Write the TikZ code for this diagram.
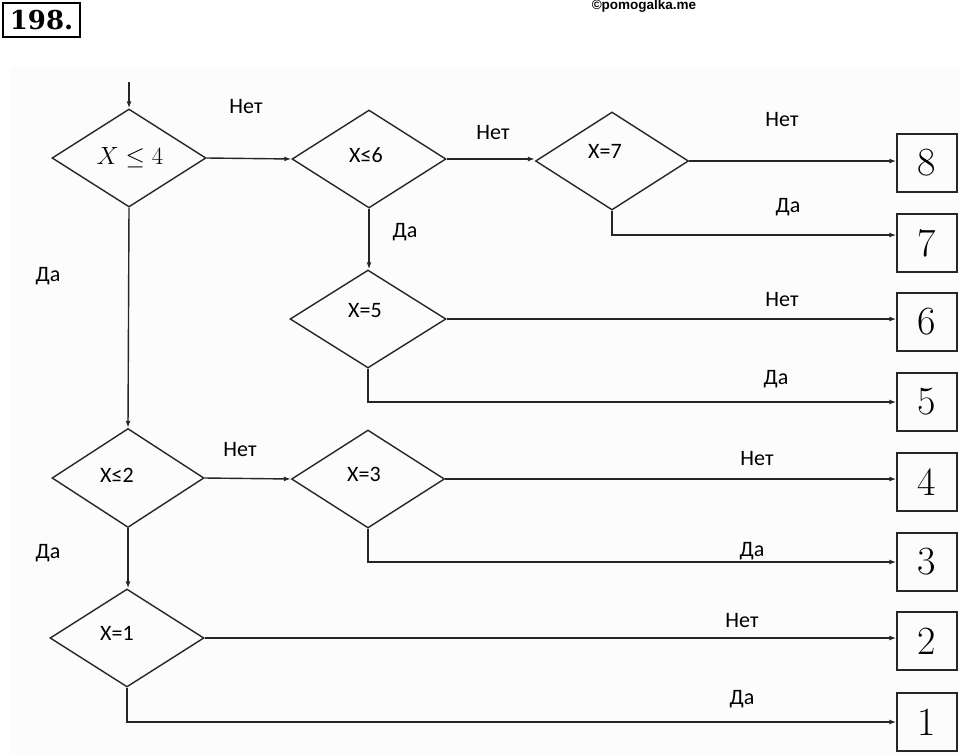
\documentclass[tikz,border=0pt]{standalone}
\usepackage{fontspec}
\newfontfamily\lblfont{Carlito}
\newfontfamily\wmfont{Liberation Sans}
\newfontfamily\titlefont{DejaVu Serif}
\usetikzlibrary{shapes.geometric,arrows.meta}
\tikzset{
  line/.style={draw=black!85, line width=1.4pt},
  arr/.style={line, -{Latex[length=7pt,width=5pt]}},
  dia/.style={diamond, line, inner sep=0pt, minimum width=154pt, minimum height=98pt},
  outbox/.style={rectangle, line, inner sep=0pt, minimum width=60pt, minimum height=58pt,
    font=\fontsize{40}{40}\selectfont},
  lbl/.style={inner sep=0pt, font=\lblfont\fontsize{22}{22}\selectfont},
}
\begin{document}
\begin{tikzpicture}[x=1pt,y=-1pt]
\useasboundingbox (0,0) rectangle (960,755);
\fill[black!1] (10,67) rectangle (960,755);
% title and watermark
\node[draw, line width=2.4pt, minimum width=77pt, minimum height=34pt, inner sep=0pt,
  font=\titlefont\bfseries\fontsize{26}{26}\selectfont] (title) at (41.5,20) {198.};
\node[inner sep=0pt, font=\wmfont\bfseries\fontsize{13.5}{13.5}\selectfont] (wm) at (644,6) {©pomogalka.me};
% diamonds
\node[dia] (d1) at (129,158) {};
\node[dia] (d2) at (369,159) {};
\node[dia, minimum width=153pt] (d3) at (612,161) {};
\node[dia, minimum width=156pt] (d4) at (368,319) {};
\node[dia, minimum width=152pt, minimum height=99pt] (d5) at (128,478) {};
\node[dia, minimum width=153pt] (d6) at (368,479) {};
\node[dia] (d7) at (127,638) {};
% diamond texts
\node[inner sep=0pt, font=\fontsize{29}{29}\selectfont] (t1) at (130,158) {$X\le 4$};
\node[lbl] (t2) at (366,155) {X≤6};
\node[lbl] (t3) at (605,151) {X=7};
\node[lbl] (t4) at (365,311) {X=5};
\node[lbl] (t5) at (117,475) {X≤2};
\node[lbl] (t6) at (364,474) {X=3};
\node[lbl] (t7) at (117,633) {X=1};
% output boxes
\node[outbox] (b8) at (927,163) {8};
\node[outbox] (b7) at (927,243) {7};
\node[outbox] (b6) at (927,322) {6};
\node[outbox] (b5) at (927,402) {5};
\node[outbox] (b4) at (927,482) {4};
\node[outbox] (b3) at (927,562) {3};
\node[outbox] (b2) at (927,641) {2};
\node[outbox] (b1) at (927,722) {1};
% connectors
\coordinate (start) at (129,82);
\draw[arr] (start) -- (d1.north);
\draw[arr] (d1.east) -- (d2.west);
\draw[arr] (d1.south) -- (d5.north);
\draw[arr] (d2.east) -- (d2.east -| d3.west);
\draw[arr] (d2.south) -- (d2.south |- d4.north);
\draw[arr] (d3.east) -- (d3.east -| b8.west);
\draw[arr] (d3.south) |- ([yshift=8pt]b7.west);
\draw[arr] (d4.east) -- (d4.east -| b6.west);
\draw[arr] (d4.south) |- (b5.west);
\draw[arr] (d5.east) -- (d6.west);
\draw[arr] (d5.south) -- (d5.south |- d7.north);
\draw[arr] (d6.east) -- (d6.east -| b4.west);
\draw[arr] (d6.south) |- (b3.west);
\draw[arr] (d7.east) -- (d7.east -| b2.west);
\draw[arr] (d7.south) |- (b1.west);
% labels
\node[lbl] (l1) at (246,107) {Нет};
\node[lbl] (l2) at (493,133) {Нет};
\node[lbl] (l3) at (782,120) {Нет};
\node[lbl] (l4) at (788,207) {Да};
\node[lbl] (l5) at (405,232) {Да};
\node[lbl] (l6) at (782,300) {Нет};
\node[lbl] (l7) at (776,379) {Да};
\node[lbl] (l8) at (48,276) {Да};
\node[lbl] (l9) at (240,450) {Нет};
\node[lbl] (l10) at (757,459) {Нет};
\node[lbl] (l11) at (752,551) {Да};
\node[lbl] (l12) at (48,553) {Да};
\node[lbl] (l13) at (742,621) {Нет};
\node[lbl] (l14) at (742,699) {Да};
\end{tikzpicture}
\end{document}
